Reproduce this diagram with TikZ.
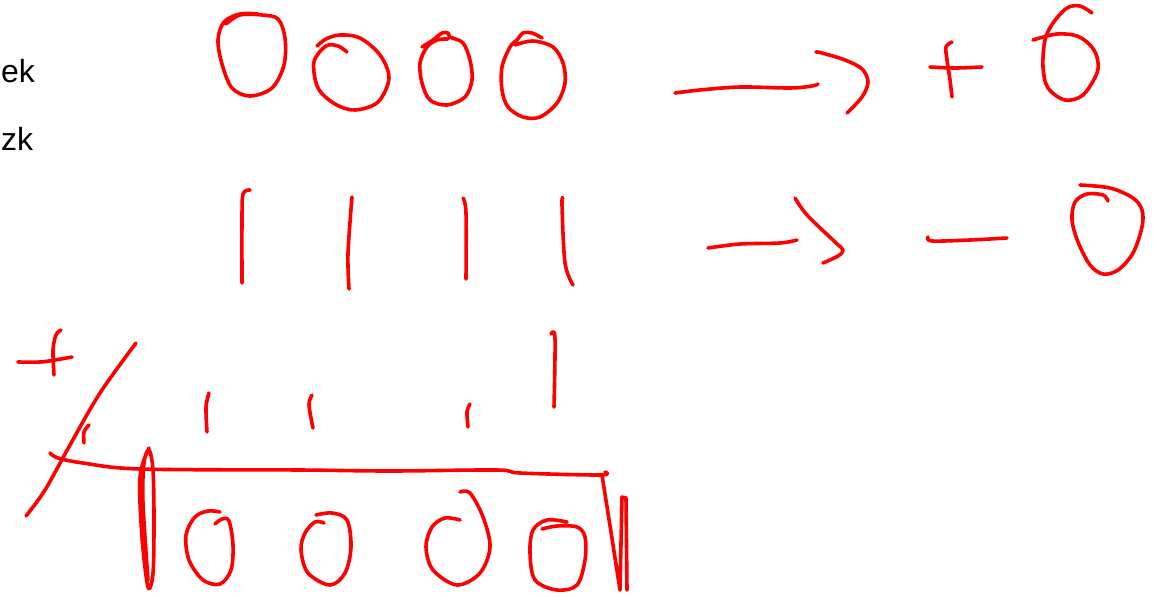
\documentclass[tikz,border=0pt]{standalone}
\usepackage{fontspec}
\setmainfont{Liberation Sans}
\definecolor{inkred}{RGB}{255,0,0}
\tikzset{
  ink/.style={draw=inkred, line width=3.6pt, line cap=round, line join=round},
  sm/.style={smooth, tension=0.55},
  lbl/.style={anchor=base west, inner sep=0pt, font=\fontsize{32}{36}\selectfont}
}
\begin{document}
\begin{tikzpicture}[x=1pt,y=-1pt]
\useasboundingbox (0,0) rectangle (1154,597);
% labels
\node[lbl] (ek) at (1,82) {ek};
\node[lbl] (zk) at (1,150) {zk};
% top row circles
\draw[ink] plot[sm] coordinates {(226,24) (240,15) (262,15) (278,19) (285,38) (284,65) (272,88) (250,96) (232,88) (222,64) (218,40) (224,22) (240,14) (258,14)};
\draw[ink] plot[sm] coordinates {(347,52) (338,46) (326,46) (314,62) (318,88) (335,104) (355,110) (378,102) (389,78) (380,55) (360,38) (340,35) (326,39) (317,46)};
\draw[ink] plot[sm] coordinates {(422,47) (433,40) (442,33) (448,33) (450,37) (463,43) (470,60) (472,80) (465,97) (447,105) (430,100) (422,83) (420,63) (427,47) (437,40) (448,39)};
\draw[ink] plot[sm] coordinates {(542,38) (532,33) (523,33) (517,40) (510,47) (502,67) (502,90) (508,107) (523,117) (540,117) (557,103) (565,83) (563,63) (553,47) (533,41) (515,45)};
% top arrow
\draw[ink] plot[sm] coordinates {(675,93) (700,90) (740,87) (790,88) (812,86) (818,84)};
\draw[ink] plot[sm] coordinates {(816,52) (822,53) (845,60) (862,69) (868,82) (862,97) (847,113)};
% plus
\draw[ink] plot[sm] coordinates {(952,42) (946,47) (947,60) (950,80) (952,97)};
\draw[ink] plot[sm] coordinates {(930,67) (955,68) (982,67)};
% six
\draw[ink] plot[sm] coordinates {(1092,13) (1080,6) (1067,8) (1053,23) (1045,40) (1043,67) (1048,88) (1065,100) (1083,95) (1097,73) (1097,57) (1090,45) (1077,36) (1057,34) (1033,40)};
% second row strokes
\draw[ink] plot[sm] coordinates {(250,190) (243,194) (242,220) (242,283)};
\draw[ink] plot[sm] coordinates {(352,197) (348,253) (349,289)};
\draw[ink] plot[sm] coordinates {(463,198) (466,213) (466,279)};
\draw[ink] plot[sm] coordinates {(563,198) (562,205) (565,263) (573,285)};
% second arrow
\draw[ink] plot[sm] coordinates {(708,248) (740,244) (780,243) (797,240)};
\draw[ink] plot[sm] coordinates {(795,198) (807,215) (835,242) (843,250) (838,256) (823,263)};
% minus
\draw[ink] plot[sm] coordinates {(928,237) (932,241) (970,240) (1007,238)};
% zero
\draw[ink] plot[sm] coordinates {(1108,201) (1103,195) (1087,194) (1075,202) (1072,220) (1078,242) (1090,265) (1103,274) (1118,270) (1133,253) (1142,227) (1142,210) (1133,198) (1110,188) (1080,185)};
% third row
\draw[ink] plot[sm] coordinates {(18,362) (40,362) (55,360) (72,357)};
\draw[ink] plot[sm] coordinates {(61,330) (56,335) (53,350) (54,375)};
\draw[ink] plot[sm] coordinates {(136,343) (100,393) (70,445) (45,490) (26,516)};
\draw[ink] plot[sm] coordinates {(84,443) (84,432) (89,425)};
\draw[ink] plot[sm] coordinates {(209,393) (206,407) (207,432)};
\draw[ink] plot[sm] coordinates {(312,395) (309,405) (313,428)};
\draw[ink] plot[sm] coordinates {(470,404) (467,412) (468,427)};
\draw[ink] plot[sm] coordinates {(551,334) (555,338) (554,407)};
% long line with right drop
\draw[ink] plot[sm] coordinates {(50,453) (58,458) (83,463) (140,469) (300,470) (390,471) (497,470) (520,473) (600,475) (605,472)};
\draw[ink] (602,475) -- (611,532) -- (620,590) -- (622,497) -- (626,498) -- (627,590);
% tall narrow loop
\draw[ink] plot[sm] coordinates {(149,448) (140,477) (142,537) (148,587) (153,573) (154,520) (153,470) (149,450) (144,463) (143,503) (148,580)};
% bottom circles
\draw[ink] plot[sm] coordinates {(215,524) (222,519) (229,521) (233,545) (231,570) (220,584) (203,580) (189,560) (186,535) (195,517) (208,511) (220,512)};
\draw[ink] plot[sm] coordinates {(324,523) (315,522) (305,533) (301,550) (308,573) (330,585) (345,573) (351,547) (347,520) (332,513) (316,515)};
\draw[ink] plot[sm] coordinates {(460,520) (445,518) (432,527) (426,547) (433,570) (457,585) (480,573) (490,547) (483,517) (470,493) (460,492)};
\draw[ink] plot[sm] coordinates {(567,522) (547,520) (533,530) (530,553) (535,580) (557,590) (577,585) (585,560) (585,537) (577,527) (557,526) (542,529)};
\end{tikzpicture}
\end{document}
